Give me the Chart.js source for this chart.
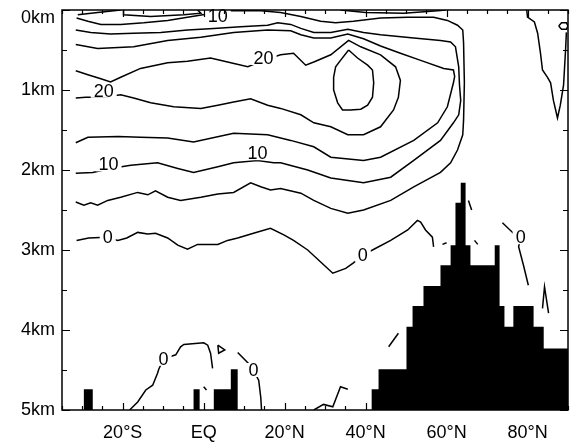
<!DOCTYPE html>
<html><head><meta charset="utf-8">
<script src="https://cdn.jsdelivr.net/npm/chart.js@4/dist/chart.umd.min.js"></script>
<style>html,body{margin:0;padding:0;background:#fff}#wrap{width:570px;height:447px}</style>
</head><body><div id="wrap"><canvas id="c" width="570" height="447"></canvas></div>
<script>
// x: latitude (deg, negative = south), y: depth (km)
const latTickLabels = {"-20":"20°S","0":"EQ","20":"20°N","40":"40°N","60":"60°N","80":"80°N"};
const depthTickLabels = {"0":"0km","1":"1km","2":"2km","3":"3km","4":"4km","5":"5km"};

// contour lines [lat, depth]
const c5 = [[-31.4,0.10],[-28.6,0.14],[-25.4,0.18],[-20.5,0.18],[-14.8,0.16],[-8.9,0.13],[-4.0,0.09],[-0.2,0.06],[3.5,0.04],[6.7,0.01],[14.1,0.01],[19.0,0.03],[24.0,0.08],[28.9,0.14],[32.6,0.16],[37.0,0.14],[43.7,0.10],[50.4,0.09],[56.8,0.09],[60.2,0.13],[62.7,0.19],[64.0,0.25],[64.2,0.41],[64.4,0.91],[64.2,1.38],[64.0,1.56],[62.7,1.75],[61.0,1.91],[58.5,2.03],[51.9,2.21],[46.2,2.38],[39.5,2.50],[35.6,2.54],[31.4,2.48],[27.2,2.38],[24.0,2.29],[19.0,2.23],[16.5,2.25],[14.1,2.21],[11.6,2.16],[7.4,2.28],[3.5,2.30],[-0.7,2.34],[-5.7,2.38],[-8.9,2.34],[-11.9,2.26],[-13.8,2.31],[-16.3,2.28],[-20.5,2.34],[-23.7,2.38],[-26.2,2.44],[-27.9,2.41],[-29.6,2.44],[-31.6,2.40]];
const c10 = [[-31.6,0.25],[-27.9,0.28],[-23.0,0.30],[-17.3,0.29],[-10.6,0.28],[-4.0,0.25],[2.5,0.23],[9.1,0.21],[15.8,0.19],[18.3,0.16],[21.5,0.18],[24.0,0.23],[27.2,0.28],[31.4,0.28],[35.6,0.24],[39.5,0.28],[43.7,0.31],[51.9,0.35],[58.5,0.38],[61.0,0.40],[62.2,0.46],[63.0,0.71],[63.2,0.94],[63.5,1.13],[63.0,1.31],[61.7,1.41],[58.5,1.63],[51.9,1.88],[46.2,2.09],[39.5,2.16],[31.4,2.10],[25.7,2.00],[19.0,1.91],[17.3,1.91],[13.3,1.88],[7.4,1.91],[3.5,1.96],[-2.5,2.03],[-6.4,1.98],[-11.4,1.91],[-18.0,1.94],[-23.0,1.98],[-27.4,2.03],[-31.6,2.04]];
const c15 = [[-31.6,0.43],[-26.2,0.48],[-17.3,0.46],[-8.9,0.38],[-0.7,0.34],[7.4,0.28],[15.8,0.25],[21.5,0.26],[24.0,0.31],[27.2,0.35],[31.4,0.35],[35.6,0.30],[39.5,0.36],[43.7,0.45],[48.6,0.54],[53.6,0.63],[59.3,0.73],[61.7,0.75],[62.0,0.83],[61.7,0.91],[60.2,1.21],[57.8,1.41],[51.9,1.63],[43.7,1.84],[39.5,1.88],[31.4,1.84],[27.2,1.71],[21.5,1.63],[15.8,1.56],[7.4,1.54],[-2.5,1.65],[-8.9,1.60],[-15.6,1.59],[-21.1,1.58],[-28.6,1.59],[-31.6,1.66]];
const c20 = [[-31.6,0.76],[-28.6,0.81],[-25.4,0.86],[-23.0,0.90],[-20.5,0.84],[-15.6,0.73],[-8.9,0.66],[-4.0,0.64],[1.7,0.60],[5.9,0.65],[10.9,0.71],[14.8,0.63],[19.0,0.56],[22.2,0.54],[25.2,0.69],[27.2,0.65],[31.4,0.56],[35.8,0.38],[38.8,0.46],[43.7,0.56],[47.4,0.71],[48.6,0.88],[48.1,1.09],[46.9,1.25],[43.7,1.46],[39.5,1.56],[35.6,1.56],[31.4,1.46],[27.2,1.41],[24.0,1.31],[19.0,1.23],[15.8,1.19],[11.6,1.11],[7.4,1.15],[3.5,1.19],[-0.7,1.23],[-7.4,1.21],[-13.1,1.16],[-17.3,1.10],[-20.5,1.06],[-24.7,1.09],[-29.1,1.09],[-31.6,1.10]];
const c25 = [[35.8,0.50],[38.0,0.60],[40.5,0.69],[41.7,0.75],[42.0,0.91],[41.7,1.09],[40.5,1.19],[38.8,1.24],[36.3,1.25],[34.3,1.25],[33.1,1.16],[32.1,1.00],[32.1,0.84],[32.6,0.71],[33.8,0.63],[35.8,0.50]];
const c0 = [[-31.4,2.88],[-28.4,2.85],[-24.2,2.84],[-21.2,2.88],[-19.0,2.85],[-16.3,2.78],[-13.8,2.80],[-11.9,2.79],[-8.9,2.85],[-6.4,2.94],[-4.0,2.99],[-1.5,2.93],[3.5,2.93],[5.9,2.88],[8.4,2.85],[12.3,2.79],[16.5,2.73],[19.8,2.81],[22.2,2.88],[25.7,3.00],[28.9,3.15],[31.9,3.29],[35.1,3.23],[37.0,3.16],[39.3,3.06],[41.7,3.00],[46.2,2.88],[50.4,2.75],[52.8,2.63],[53.6,2.65],[54.8,2.75],[56.5,2.84],[56.8,2.96]];
const c0South = [[-18.3,5.0],[-16.3,4.90],[-14.3,4.75],[-12.6,4.69],[-11.4,4.54],[-11.1,4.49],[-9.9,4.36],[-6.9,4.31],[-5.7,4.21],[-4.9,4.18],[0.0,4.16],[1.0,4.19],[1.7,4.29],[2.2,4.48]];
const c0Tri = [[3.5,4.19],[5.2,4.25],[3.7,4.29],[3.5,4.19]];
const c0Eq = [[8.4,4.28],[10.9,4.41],[12.3,4.50],[13.6,4.63],[14.1,4.84],[14.3,5.0]];
const c0Dash = [[0.0,4.71],[0.7,4.75]];
const c0North1 = [[59.0,2.93],[60.0,2.91]];
const c0North2 = [[65.4,2.38],[66.2,2.50]];
const c0North3 = [[66.9,2.88],[67.7,2.93]];
const c0North4 = [[73.8,2.66],[76.5,2.79],[78.3,2.84],[77.8,2.96],[79.0,3.19],[80.2,3.44]];
const c0North5 = [[83.7,3.73],[84.2,3.46],[85.2,3.79]];
const c0North6 = [[45.7,4.21],[48.1,4.04]];
const c0Bottom = [[27.2,5.0],[29.6,4.93],[31.9,4.96],[33.8,4.71],[35.6,4.74]];
const cArctic = [[79.8,0.0],[80.0,0.09],[81.7,0.15],[82.5,0.29],[83.2,0.54],[83.7,0.75],[84.9,0.84],[85.7,0.91],[86.4,1.13],[87.4,1.35],[88.1,1.19],[88.9,0.94],[89.4,0.50],[89.6,0.28]];
const cArcticCell = [[87.7,0.20],[88.4,0.16],[89.6,0.16],[90.0,0.20],[89.6,0.24],[88.4,0.24],[87.7,0.20]];
const cSurf1 = [[-31.1,0.06],[-26.2,0.03],[-20.5,0.0]];
const cSurf2 = [[-19.8,0.0],[-19.8,0.06],[-13.1,0.08],[-4.9,0.06],[-0.7,0.04],[-1.5,0.0]];
const cSurf3 = [[33.8,0.0],[40.0,0.03],[49.4,0.04],[57.8,0.01],[59.8,0.0]];

// contour labels
const labelText = ["10","20","20","10","10","0","0","0","0","0"];
const labelLat  = [3.5,14.8,-24.7,-23.5,13.3,-23.7,39.3,78.3,-9.9,12.3];
const labelDepth= [0.08,0.60,1.01,1.93,1.79,2.84,3.06,2.84,4.36,4.50];

// bottom topography: cell west edge latitude and top depth (5 = no land); last entry closes the range
const bathyLat   = [-35,-29.6,-27.4,-2.5,-1.0,2.5,6.7,8.4,41.5,43.2,50.1,51.6,54.3,58.5,61.0,62.2,63.5,64.7,65.9,71.9,73.1,74.3,76.5,81.5,84.0,90];
const bathyDepth = [5,4.74,5,4.74,5,4.74,4.49,5,4.74,4.49,3.96,3.70,3.45,3.19,2.94,2.41,2.16,2.94,3.19,2.94,3.70,3.96,3.70,3.96,4.23,4.23];

const contourList = [c5,c10,c15,c20,c25,c0,c0South,c0Tri,c0Eq,c0Dash,c0North1,c0North2,c0North3,c0North4,c0North5,c0North6,c0Bottom,cArctic,cArcticCell,cSurf1,cSurf2,cSurf3];

const datasets = contourList.map(arr => ({
  type:'scatter', showLine:true, data: arr.map(p => ({x:p[0], y:p[1]})),
  borderColor:'#000', borderWidth:1.5, pointRadius:0, fill:false, tension:0
}));

// step outline of the topography cells
const bathyOutline = [];
for (let i = 0; i < bathyLat.length - 1; i++) {
  bathyOutline.push({x:bathyLat[i], y:bathyDepth[i]});
  bathyOutline.push({x:bathyLat[i+1], y:bathyDepth[i]});
}
datasets.push({
  type:'line', data: bathyOutline,
  borderWidth:0, borderColor:'rgba(0,0,0,0)', backgroundColor:'#000',
  fill:{value:5}, pointRadius:0, tension:0
});

const FONT = "'Liberation Sans', Arial, sans-serif";

const labelPlugin = {
  id:'clabels',
  afterDatasetsDraw(chart){
    const {ctx, scales:{x,y}} = chart;
    ctx.save();
    ctx.font = "18px " + FONT;
    ctx.textAlign='center'; ctx.textBaseline='middle';
    labelText.forEach((t,i)=>{
      const px = x.getPixelForValue(labelLat[i]);
      const py = y.getPixelForValue(labelDepth[i]);
      const w = ctx.measureText(t).width;
      ctx.fillStyle='#fff';
      ctx.fillRect(px-w/2-3, py-7, w+6, 14);
      ctx.fillStyle='#000';
      ctx.fillText(t, px, py+1);
    });
    ctx.restore();
  }
};

const framePlugin = {
  id:'frame',
  afterDraw(chart){
    const {ctx, chartArea:a, scales:{x,y}} = chart;
    ctx.save();
    ctx.strokeStyle='#000';
    ctx.lineWidth=1.2;
    ctx.beginPath();
    x.ticks.forEach(t=>{
      const px = Math.round(x.getPixelForValue(t.value))+0.5;
      const len = (t.value % 20 === 0) ? 7 : 4;
      ctx.moveTo(px, a.bottom); ctx.lineTo(px, a.bottom-len);
      ctx.moveTo(px, a.top); ctx.lineTo(px, a.top+len);
    });
    y.ticks.forEach(t=>{
      const py = Math.round(y.getPixelForValue(t.value))+0.5;
      const len = Number.isInteger(t.value) ? 8 : 5;
      ctx.moveTo(a.left, py); ctx.lineTo(a.left+len, py);
      ctx.moveTo(a.right, py); ctx.lineTo(a.right-len, py);
    });
    ctx.stroke();
    ctx.lineWidth=1.5;
    ctx.strokeRect(a.left, a.top, a.right-a.left, a.bottom-a.top);
    ctx.restore();
  }
};

new Chart(document.getElementById('c'), {
  type:'scatter',
  data:{datasets},
  options:{
    responsive:false, animation:false, devicePixelRatio:1,
    layout:{padding:{top:10, right:2, left:0, bottom:0}},
    plugins:{legend:{display:false}, tooltip:{enabled:false}},
    scales:{
      x:{type:'linear', min:-35, max:90,
        afterFit(s){ s.height = 37; s.paddingLeft = 0; s.paddingRight = 0; },
        grid:{display:false, drawTicks:false}, border:{display:false},
        ticks:{stepSize:5, autoSkip:false, maxRotation:0, padding:12, color:'#000',
          font:{family:FONT, size:18},
          callback:(v)=> latTickLabels[String(v)] || ''}
      },
      y:{type:'linear', reverse:true, min:0, max:5,
        afterFit(s){ s.width = 62; s.paddingTop = 0; s.paddingBottom = 0; },
        grid:{display:false, drawTicks:false}, border:{display:false},
        ticks:{stepSize:0.5, autoSkip:false, padding:7, color:'#000',
          font:{family:FONT, size:18, lineHeight:0.9},
          callback:(v)=> {
            const t = depthTickLabels[String(v)] || '';
            return v === 0 ? ['', t] : t;
          }}
      }
    }
  },
  plugins:[labelPlugin, framePlugin]
});
</script></body></html>
